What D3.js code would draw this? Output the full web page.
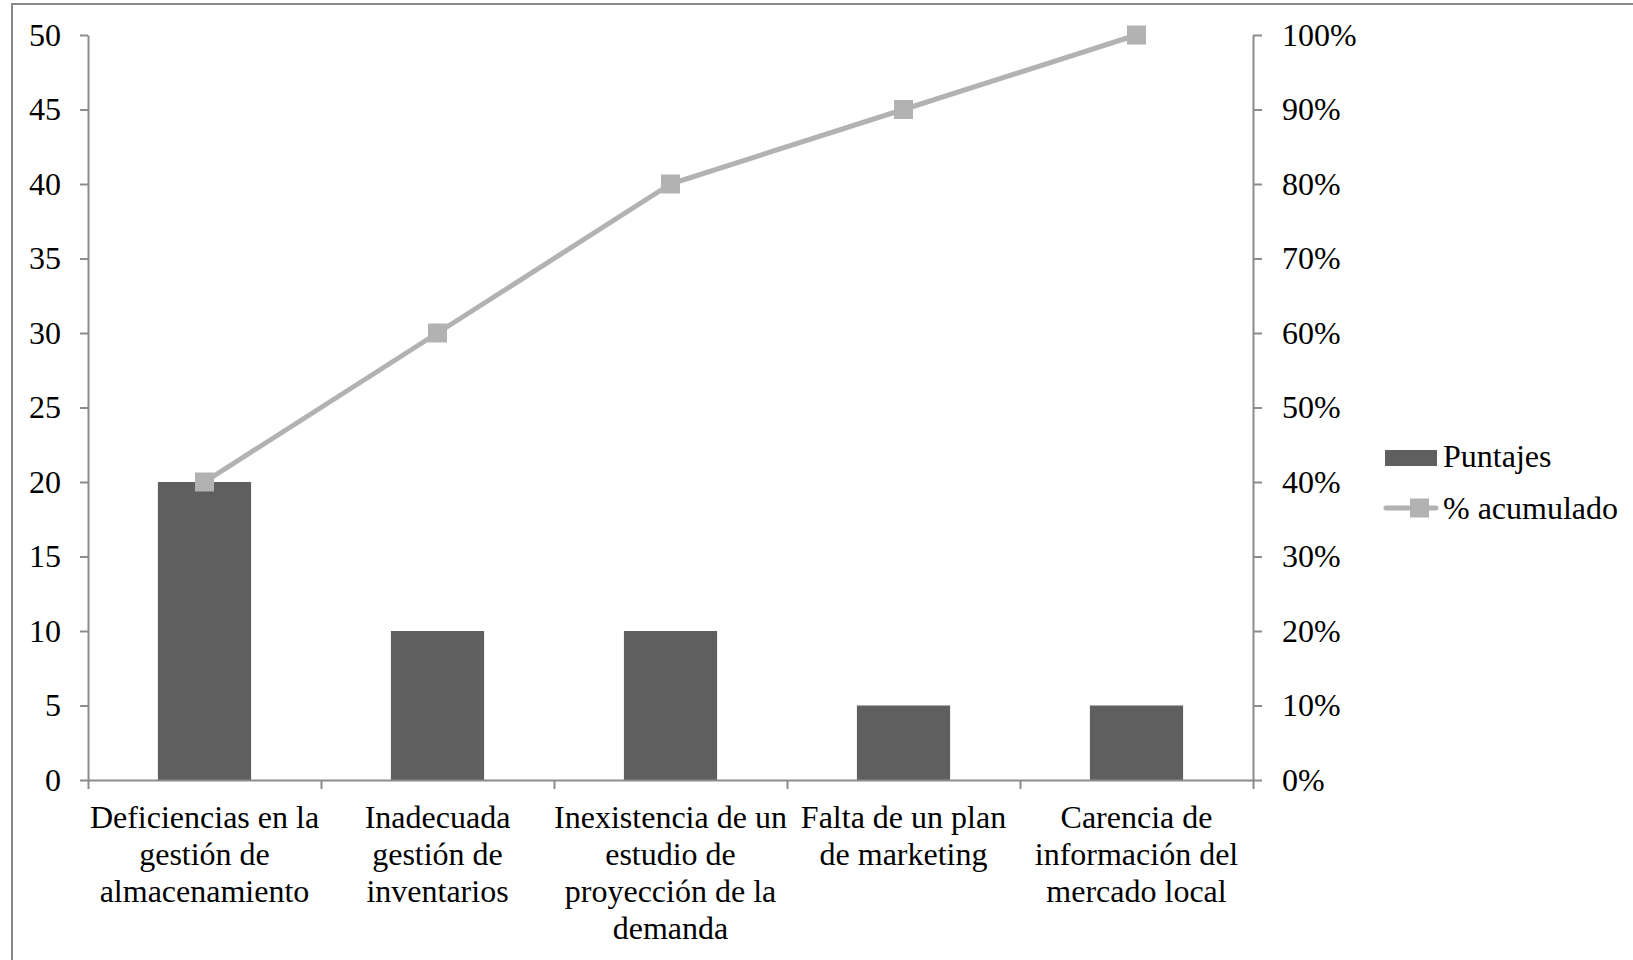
<!DOCTYPE html>
<html><head><meta charset="utf-8">
<script src="https://cdn.jsdelivr.net/npm/d3@7"></script>
<style>
html,body{margin:0;padding:0;background:#fff;}
svg text{font-family:'Liberation Serif','Times New Roman',Times,'DejaVu Serif',serif !important;}
</style></head>
<body>
<svg id="c" width="1633" height="960"></svg>
<script>
const categories = [
  ["Deficiencias en la","gestión de","almacenamiento"],
  ["Inadecuada","gestión de","inventarios"],
  ["Inexistencia de un","estudio de","proyección de la","demanda"],
  ["Falta de un plan","de marketing"],
  ["Carencia de","información del","mercado local"]
];
const puntajes = [20, 10, 10, 5, 5];
const acumulado = [0.40, 0.60, 0.80, 0.90, 1.00];
const leftTicks = [0,5,10,15,20,25,30,35,40,45,50];
const rightTicks = [0,0.1,0.2,0.3,0.4,0.5,0.6,0.7,0.8,0.9,1.0];
const seriesNames = ["Puntajes","% acumulado"];

const FONT = "'Liberation Serif','Times New Roman',Times,'DejaVu Serif',serif";
const svg = d3.select("#c").attr("font-family",FONT);
const FS = 32;
const L = 88, R = 1253, T = 35, B = 780;
const axisColor = "#8c8c8c";

svg.append("rect").attr("x",12).attr("y",4).attr("width",1660).attr("height",1000)
  .attr("fill","none").attr("stroke","#888").attr("stroke-width",2);

const idx = categories.map((d,i)=>i);
const x = d3.scaleBand().domain(idx).range([L,R]).padding(0);
const yL = d3.scaleLinear().domain([0,50]).range([B,T]);
const yR = d3.scaleLinear().domain([0,1]).range([B,T]);

// bars
const bw = x.bandwidth()*0.4;
svg.append("g").selectAll("rect").data(puntajes).join("rect")
  .attr("x",(d,i)=>x(i)+x.bandwidth()/2-bw/2)
  .attr("y",d=>yL(d))
  .attr("width",bw)
  .attr("height",d=>B-yL(d))
  .attr("fill","#5f5f5f");

// axes
const gl = svg.append("g").attr("transform",`translate(${L},0)`)
  .call(d3.axisLeft(yL).tickValues(leftTicks).tickSize(8).tickPadding(19).tickSizeOuter(0));
const gr = svg.append("g").attr("transform",`translate(${R},0)`)
  .call(d3.axisRight(yR).tickValues(rightTicks).tickFormat(d3.format(".0%")).tickSize(9).tickPadding(20).tickSizeOuter(0));
const xb = d3.scaleLinear().domain([0,categories.length]).range([L,R]);
const gb = svg.append("g").attr("transform",`translate(0,${B})`)
  .call(d3.axisBottom(xb).tickValues(d3.range(categories.length+1)).tickFormat("").tickSize(9).tickSizeOuter(0));

[gl,gr,gb].forEach(g=>{
  g.attr("font-family",FONT).attr("font-size",FS);
  g.select(".domain").attr("stroke",axisColor).attr("stroke-width",2);
  g.selectAll(".tick line").attr("stroke",axisColor).attr("stroke-width",2);
  g.selectAll(".tick text").attr("fill","#000");
});

// category labels
const lab = svg.append("g").attr("font-family",FONT);
categories.forEach((lines,i)=>{
  const t = lab.append("text").attr("text-anchor","middle").attr("font-size",FS).attr("fill","#000");
  lines.forEach((ln,j)=>{
    t.append("tspan").attr("x",x(i)+x.bandwidth()/2).attr("y",828+j*37).text(ln);
  });
});

// line
const lineColor = "#b2b2b2";
const line = d3.line().x((d,i)=>x(i)+x.bandwidth()/2).y(d=>yR(d));
svg.append("path").datum(acumulado).attr("d",line).attr("fill","none")
  .attr("stroke",lineColor).attr("stroke-width",5).attr("stroke-linejoin","round");
const ms = 19;
svg.append("g").selectAll("rect").data(acumulado).join("rect")
  .attr("x",(d,i)=>x(i)+x.bandwidth()/2-ms/2)
  .attr("y",d=>yR(d)-ms/2)
  .attr("width",ms).attr("height",ms).attr("fill",lineColor);

// legend
const lg = svg.append("g").attr("font-family",FONT);
lg.append("rect").attr("x",1385).attr("y",450).attr("width",52).attr("height",16).attr("fill","#5f5f5f");
lg.append("text").attr("x",1443).attr("y",467).attr("font-size",FS).text(seriesNames[0]);
lg.append("line").attr("x1",1386).attr("x2",1436).attr("y1",508).attr("y2",508)
  .attr("stroke",lineColor).attr("stroke-width",5).attr("stroke-linecap","round");
lg.append("rect").attr("x",1410).attr("y",508-ms/2).attr("width",ms).attr("height",ms).attr("fill",lineColor);
lg.append("text").attr("x",1443).attr("y",519).attr("font-size",FS).text(seriesNames[1]);
</script>
</body></html>
